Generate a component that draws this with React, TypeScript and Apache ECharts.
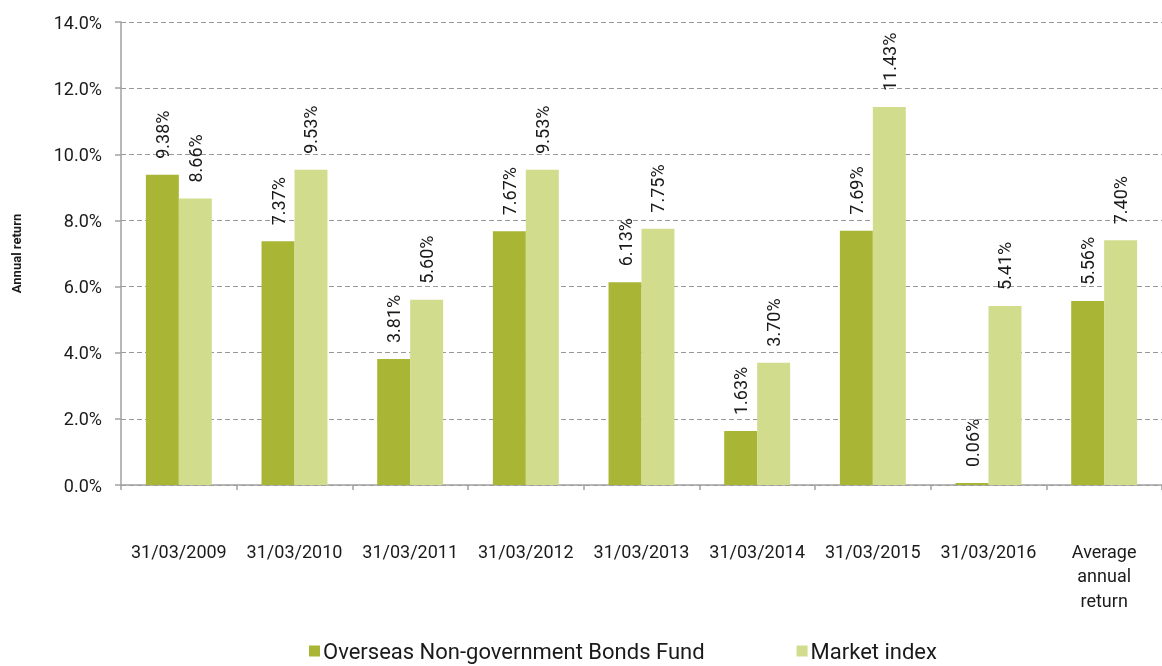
import React, { useEffect, useRef } from "react";
import * as echarts from "echarts";

const categories = [
  "31/03/2009",
  "31/03/2010",
  "31/03/2011",
  "31/03/2012",
  "31/03/2013",
  "31/03/2014",
  "31/03/2015",
  "31/03/2016",
  "Average\nannual\nreturn",
];
const fundValues = [9.38, 7.37, 3.81, 7.67, 6.13, 1.63, 7.69, 0.06, 5.56];
const indexValues = [8.66, 9.53, 5.6, 9.53, 7.75, 3.7, 11.43, 5.41, 7.4];
const seriesNames = ["Overseas Non-government Bonds Fund", "Market index"];
const yAxisTitle = "Annual return";

const FONT = "Roboto, 'Noto Sans', sans-serif";

export default function App() {
  const ref = useRef<HTMLDivElement>(null);
  useEffect(() => {
    document.body.style.margin = "0";
    const chart = echarts.init(ref.current!, null, { renderer: "svg" });
    const label = {
      show: true,
      position: "top" as const,
      rotate: 90,
      align: "left" as const,
      verticalAlign: "middle" as const,
      distance: 16,
      fontSize: 18,
      fontFamily: FONT,
      color: "#1a1a1a",
      formatter: (p: any) => p.value.toFixed(2) + "%",
    };
    chart.setOption({
      animation: false,
      textStyle: { fontFamily: FONT },
      grid: { left: 121, right: 0, top: 22, bottom: 181, containLabel: false },
      legend: {
        left: 304,
        top: 635,
        padding: [5, 5, 2, 5],
        itemWidth: 11,
        itemHeight: 11,
        itemGap: 92,
        icon: "rect",
        textStyle: { fontSize: 22, lineHeight: 22, fontFamily: FONT, color: "#1a1a1a", padding: [0, 0, 0, -2] },
        data: seriesNames,
      },
      xAxis: {
        type: "category",
        data: categories,
        axisLine: { lineStyle: { color: "#a0a0a0", width: 1.5 } },
        axisTick: { show: true, length: 5, lineStyle: { color: "#a0a0a0", width: 1.5 } },
        axisLabel: {
          interval: 0,
          margin: 54,
          fontSize: 18,
          lineHeight: 24.5,
          fontFamily: FONT,
          color: "#1a1a1a",
          align: "center",
        },
      },
      yAxis: {
        type: "value",
        min: 0,
        max: 14,
        interval: 2,
        name: yAxisTitle,
        nameLocation: "middle",
        nameGap: 98,
        nameTextStyle: { fontSize: 13, fontWeight: "bold", fontFamily: FONT, color: "#1a1a1a" },
        axisLine: { show: true, lineStyle: { color: "#a0a0a0", width: 1.5 } },
        axisTick: { show: true, length: 6, lineStyle: { color: "#a0a0a0", width: 1.5 } },
        axisLabel: {
          margin: 19,
          fontSize: 18,
          fontFamily: FONT,
          color: "#1a1a1a",
          formatter: (v: number) => v.toFixed(1) + "%",
        },
        splitLine: { lineStyle: { color: "#999999", type: [5, 3], width: 1.2 } },
      },
      series: [
        {
          name: seriesNames[0],
          type: "bar",
          data: fundValues,
          itemStyle: { color: "#a9b534" },
          barGap: "0%",
          barCategoryGap: "43%",
          label,
        },
        {
          name: seriesNames[1],
          type: "bar",
          data: indexValues,
          itemStyle: { color: "#d1dc8c" },
          barGap: "0%",
          barCategoryGap: "43%",
          label,
        },
      ],
    });
    return () => chart.dispose();
  }, []);
  return (
    <div
      ref={ref}
      style={{ position: "fixed", left: 0, top: 0, width: 1162, height: 666 }}
    />
  );
}
